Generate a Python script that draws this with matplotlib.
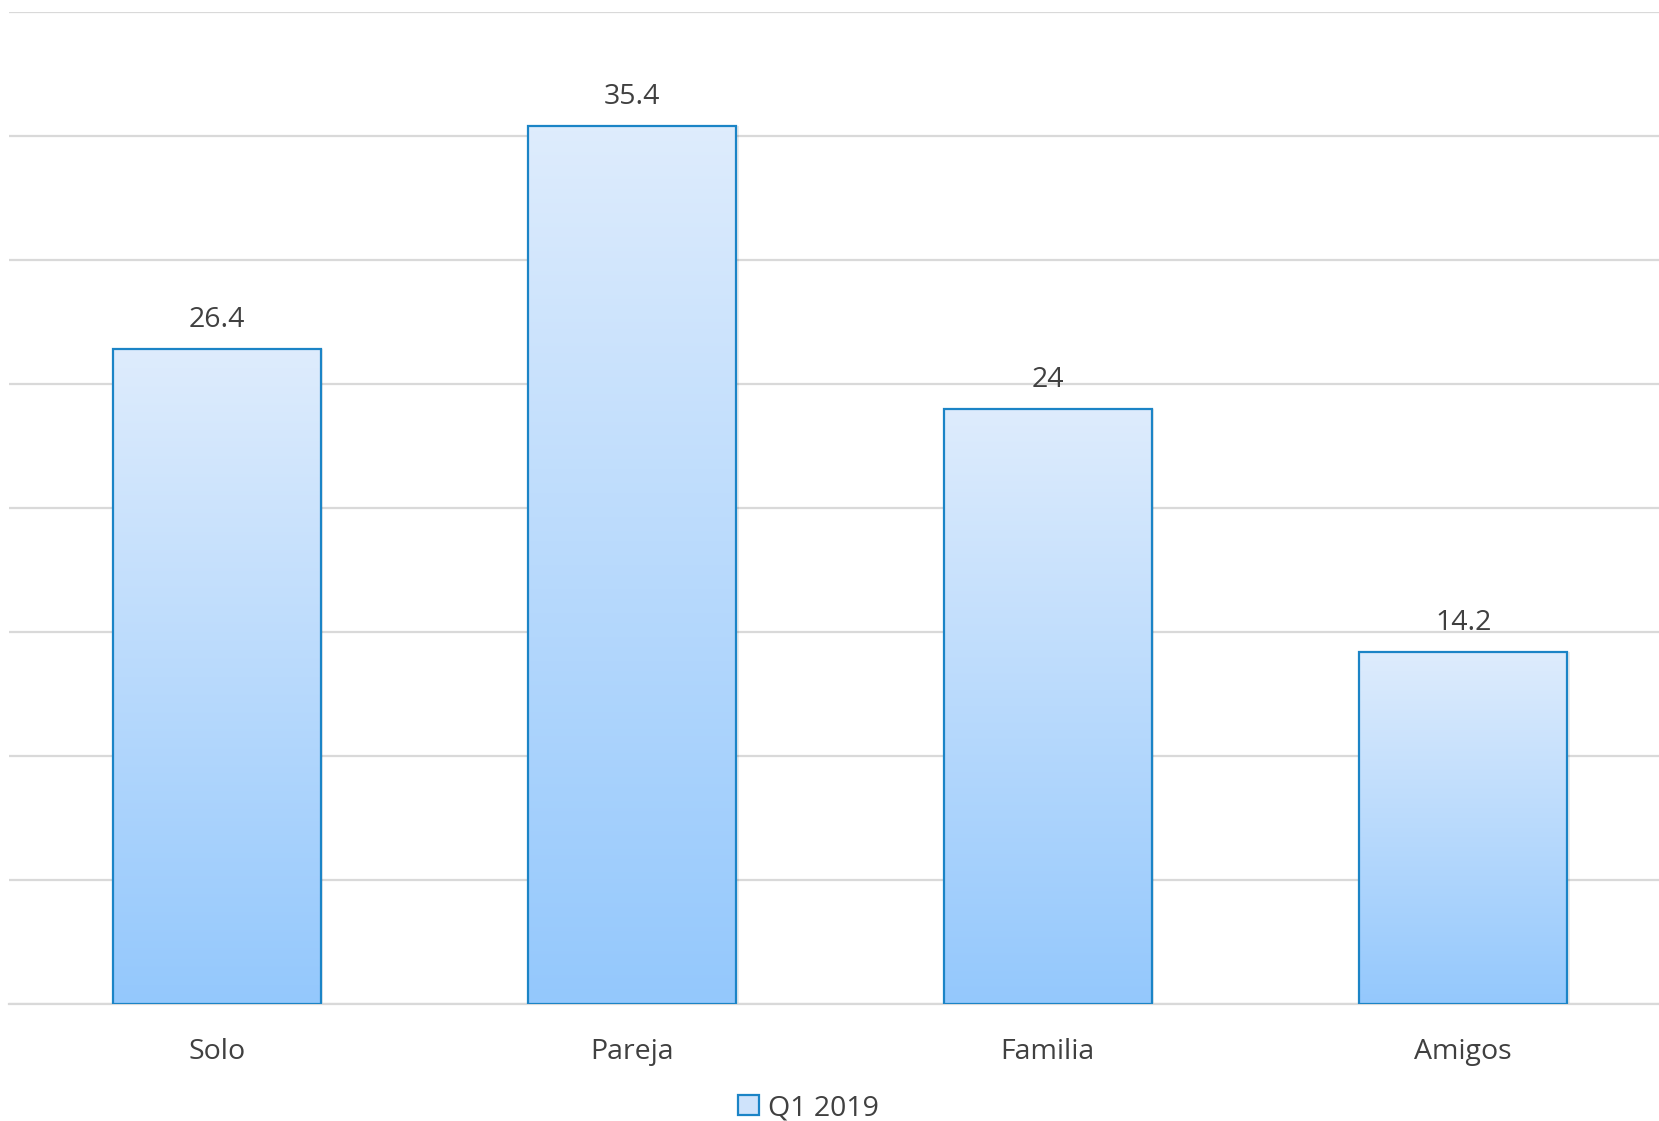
import numpy as np
import matplotlib
matplotlib.use("Agg")
import matplotlib.pyplot as plt
from matplotlib.colors import LinearSegmentedColormap
from matplotlib.patches import Rectangle

categories = ["Solo", "Pareja", "Familia", "Amigos"]
values = [26.4, 35.4, 24, 14.2]
value_labels = ["26.4", "35.4", "24", "14.2"]
series_name = "Q1 2019"

plt.rcParams["font.family"] = ["Open Sans", "DejaVu Sans"]

fig = plt.figure(figsize=(16.59, 11.21), dpi=100)
# plot area runs slightly past the right edge of the canvas
ax = fig.add_axes([9 / 1659, 1 - 1004 / 1121, 1662 / 1659, (1004 - 12) / 1121])

ax.set_xlim(-0.5, len(categories) - 0.5)
ax.set_ylim(0, 40)
ax.set_yticks(np.arange(0, 41, 5))
ax.yaxis.grid(True, color="#D9D9D9", linewidth=1.6)
ax.set_axisbelow(True)
for side in ["left", "right", "top"]:
    ax.spines[side].set_visible(False)
ax.spines["bottom"].set_color("#D9D9D9")
ax.spines["bottom"].set_linewidth(1.6)
ax.tick_params(axis="y", left=False, labelleft=False)
ax.tick_params(axis="x", bottom=False, labelsize=20.5, labelcolor="#404040", pad=21)
ax.set_xticks(range(len(categories)))
ax.set_xticklabels(categories)

cmap = LinearSegmentedColormap.from_list("barfill", ["#94C8FD", "#DEECFC"])
grad = np.linspace(0, 1, 256).reshape(-1, 1)
width = 0.5
edge = "#1B84C6"

bars = ax.bar(range(len(categories)), values, width=width, color="none",
              edgecolor=edge, linewidth=1.6, zorder=4)
for i, (b, v) in enumerate(zip(bars, values)):
    x0 = b.get_x()
    # soft drop shadow
    shadow = Rectangle((x0 + 0.006, 0), width, v, facecolor="#000000", alpha=0.08,
                       edgecolor="none", zorder=2)
    ax.add_patch(shadow)
    ax.imshow(grad, cmap=cmap, origin="lower", aspect="auto",
              extent=(x0, x0 + width, 0, v), zorder=3, interpolation="bilinear")
    ax.annotate(value_labels[i], (b.get_x() + width / 2, v), xytext=(0, 11),
                textcoords="offset points", ha="center", va="bottom",
                fontsize=20.5, color="#404040")

ax.set_xlim(-0.5, len(categories) - 0.5)
ax.set_ylim(0, 40)

handle = Rectangle((0, 0), 1, 1, facecolor="#CFE3FB", edgecolor=edge, linewidth=1.6)
fig.legend([handle], [series_name], loc="center", bbox_to_anchor=(808 / 1659, 1 - 1108 / 1121),
           frameon=False, fontsize=20.5, labelcolor="#404040", handlelength=0.75,
           handleheight=0.75, handletextpad=0.3)

fig.savefig("out.png", dpi=100, facecolor="white")
